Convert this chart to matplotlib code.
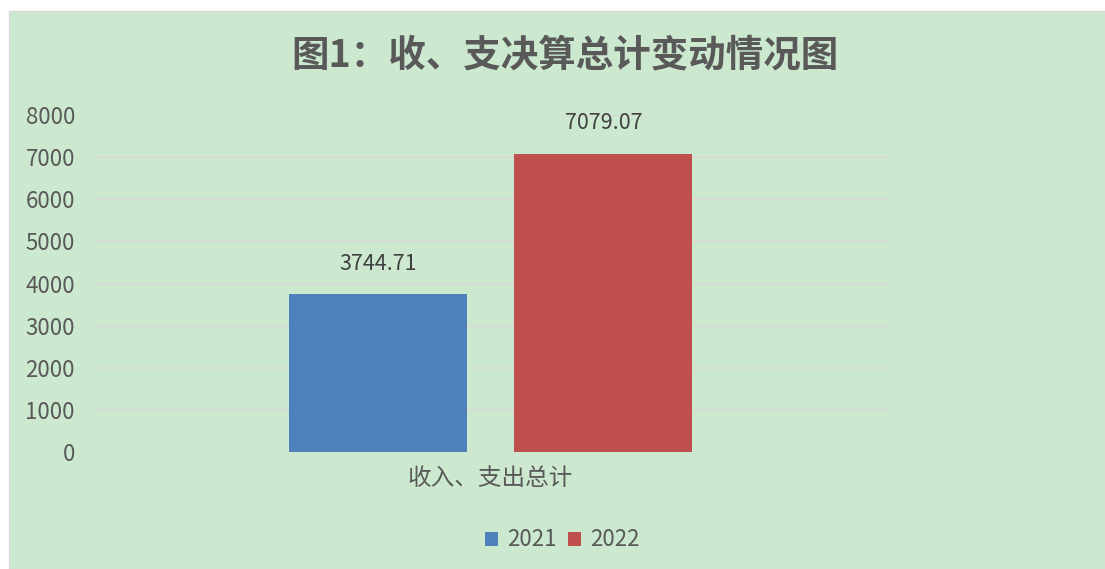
import matplotlib
matplotlib.use('Agg')
from matplotlib import pyplot as plt
from matplotlib.patches import Rectangle

# chart data
category = '收入、支出总计'
years = ['2021', '2022']
values = [3744.71, 7079.07]
colors = ['#4f81bd', '#c0504d']
yticks = [0, 1000, 2000, 3000, 4000, 5000, 6000, 7000, 8000]

plt.rcParams['font.family'] = ['Noto Sans CJK SC', 'DejaVu Sans']

bg = '#cce8cf'
txt = '#595959'

fig = plt.figure(figsize=(11.05, 5.69), dpi=100, facecolor='white')
# green chart area with a faint border, white strip on top/left
fig.patches.append(Rectangle((9 / 1105, 0), 1 - 9 / 1105, 558 / 569,
                             transform=fig.transFigure, facecolor=bg,
                             edgecolor='#d9d9d9', linewidth=1, zorder=-1))

ax = fig.add_axes([93 / 1105, 117 / 569, 795 / 1105, 337 / 569])
ax.set_facecolor('none')

width = 0.224
offsets = [-0.142, 0.142]
for yr, v, c, off in zip(years, values, colors, offsets):
    ax.bar(off, v, width=width, color=c, label=yr, zorder=3)
    ax.annotate('%.2f' % v, (off, v), xytext=(0, 14), textcoords='offset points',
                ha='center', va='bottom', fontsize=15.5, color='#404040')

ax.set_xlim(-0.5, 0.5)
ax.set_ylim(0, 8000)
ax.set_yticks(yticks)
ax.set_yticklabels([str(t) for t in yticks], fontsize=16, color=txt)
ax.set_xticks([0])
ax.set_xticklabels([category], fontsize=17, color=txt)
ax.tick_params(axis='both', length=0)
ax.tick_params(axis='y', pad=13)
ax.tick_params(axis='x', pad=11)
ax.grid(axis='y', color='#d9d9d9', linewidth=1.2, zorder=0)
for s in ax.spines.values():
    s.set_visible(False)

fig.text(565 / 1105, 1 - 55 / 569, '图1：收、支决算总计变动情况图', ha='center', va='center',
         fontsize=27, fontweight='bold', color=txt)

fig.legend(loc='center', bbox_to_anchor=(562 / 1105, 1 - 540 / 569), ncol=2,
           frameon=False, fontsize=16, handlelength=0.6, handleheight=0.6,
           handletextpad=0.4, columnspacing=0.5, labelcolor=txt)

plt.savefig('out.png', dpi=100, facecolor=fig.get_facecolor())
